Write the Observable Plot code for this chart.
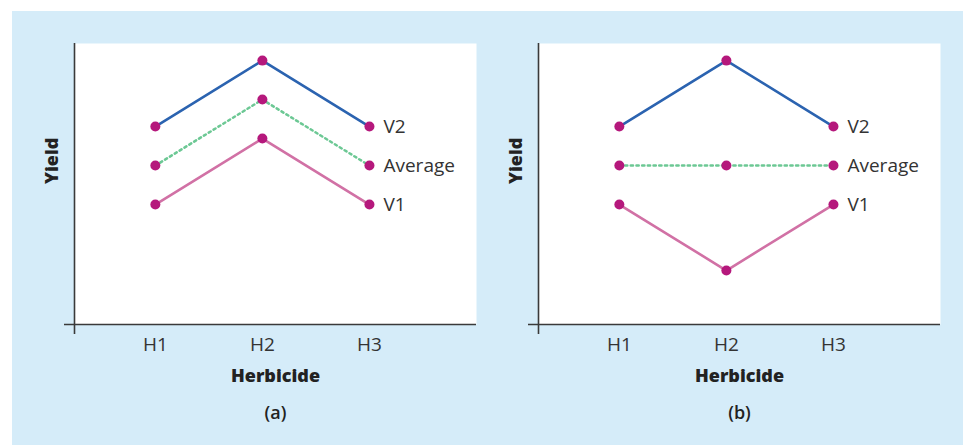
<!DOCTYPE html>
<html>
<head>
<meta charset="utf-8">
<script src="https://cdn.jsdelivr.net/npm/d3@7"></script>
<script src="https://cdn.jsdelivr.net/npm/@observablehq/plot@0.6"></script>
<style>
  html, body { margin: 0; padding: 0; background: #ffffff; width: 963px; height: 445px; overflow: hidden; }
  #panel { position: absolute; left: 12px; top: 11px; width: 951px; height: 434px; background: #d5ecf9; }
  .chart { position: absolute; top: 0; }
  .chart svg { background: transparent !important; overflow: visible; }
</style>
</head>
<body>
<div id="panel"></div>
<div id="a" class="chart" style="left:0px"></div>
<div id="b" class="chart" style="left:480px"></div>
<script>
const herbicides = ["H1", "H2", "H3"];
const herbicideIndex = [1, 2, 3];
const seriesNames = ["V2", "Average", "V1"];

// Panel (a): no interaction
const v2A = [6.6, 8.8, 6.6];
const avgA = [5.3, 7.5, 5.3];
const v1A = [4.0, 6.2, 4.0];

// Panel (b): crossover interaction
const v2B = [6.6, 8.8, 6.6];
const avgB = [5.3, 5.3, 5.3];
const v1B = [4.0, 1.8, 4.0];

const panelLabels = ["(a)", "(b)"];

const colors = { "V2": "#2b63b0", "Average": "#6cc894", "V1": "#d171a5" };
const dotColor = "#b5187c";
const FONT = "'Open Sans', 'Noto Sans', sans-serif";

function rows(v2, avg, v1) {
  const out = [];
  [[ "V2", v2 ], [ "Average", avg ], [ "V1", v1 ]].forEach(([s, vals]) => {
    vals.forEach((v, i) => out.push({ series: s, x: herbicideIndex[i], h: herbicides[i], y: v }));
  });
  return out;
}

function makeChart(data, caption, width, marginLeft, marginRight) {
  const last = data.filter(d => d.x === 3);
  return Plot.plot({
    width,
    height: 445,
    marginLeft,
    marginRight,
    marginTop: 43,
    marginBottom: 121,
    style: { fontFamily: FONT, background: "transparent", overflow: "visible" },
    x: { domain: [0.245, 4], axis: null },
    y: { domain: [0, 9.37], axis: null },
    marks: [
      Plot.frame({ fill: "#ffffff", stroke: "none" }),
      Plot.lineY(data.filter(d => d.series === "V2"), { x: "x", y: "y", stroke: colors["V2"], strokeWidth: 2.6 }),
      Plot.lineY(data.filter(d => d.series === "V1"), { x: "x", y: "y", stroke: colors["V1"], strokeWidth: 2.6 }),
      Plot.lineY(data.filter(d => d.series === "Average"), { x: "x", y: "y", stroke: colors["Average"], strokeWidth: 2.5, strokeDasharray: "2.3,3.4" }),
      Plot.dot(data, { x: "x", y: "y", r: 5, fill: dotColor, stroke: "none" }),
      Plot.text(last, { x: "x", y: "y", text: "series", textAnchor: "start", dx: 14, fontSize: 19, fill: "#333333" }),
      Plot.ruleX([0.245], { stroke: "#3a3a3a", strokeWidth: 1.6, insetBottom: -10 }),
      Plot.ruleY([0], { stroke: "#3a3a3a", strokeWidth: 1.6, insetLeft: -10 }),
      Plot.axisX(herbicideIndex, { tickFormat: (d, i) => herbicides[i], tickSize: 0, tickPadding: 13, fontSize: 19, fill: "#333333", label: null }),
      Plot.text(["Herbicide"], { frameAnchor: "bottom", dy: 57, fontSize: 18, fontWeight: 800, fill: "#222222" }),
      Plot.text([caption], { frameAnchor: "bottom", dy: 94, fontSize: 18, fontWeight: 600, fill: "#222222" }),
      Plot.text(["Yield"], { frameAnchor: "left", dx: -22, rotate: -90, fontSize: 18, fontWeight: 800, fill: "#222222" })
    ]
  });
}

document.getElementById("a").append(makeChart(rows(v2A, avgA, v1A), panelLabels[0], 480, 74, 4));
document.getElementById("b").append(makeChart(rows(v2B, avgB, v1B), panelLabels[1], 483, 58, 23));
</script>
</body>
</html>
